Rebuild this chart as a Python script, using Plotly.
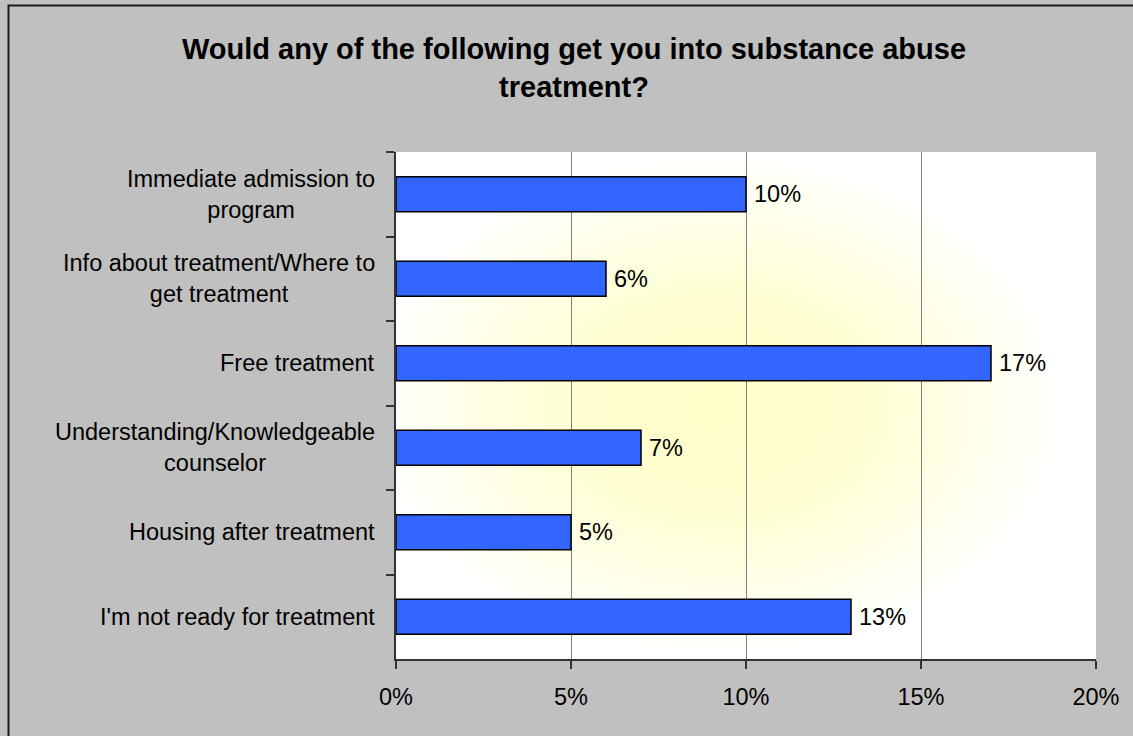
import base64
import plotly.graph_objects as go

# ---- data ----
categories = [
    "Immediate admission to program",
    "Info about treatment/Where to get treatment",
    "Free treatment",
    "Understanding/Knowledgeable counselor",
    "Housing after treatment",
    "I'm not ready for treatment",
]
category_labels = [
    "Immediate admission to<br>program",
    "Info about treatment/Where to<br>get treatment",
    "Free treatment",
    "Understanding/Knowledgeable<br>counselor",
    "Housing after treatment",
    "I'm not ready for treatment",
]
values = [10, 6, 17, 7, 5, 13]
x_tick_values = [0, 5, 10, 15, 20]
x_tick_labels = ["0%", "5%", "10%", "15%", "20%"]
title_text = "Would any of the following get you into substance abuse<br>treatment?"

FONT = "Liberation Sans, Arial, sans-serif"

# radial-gradient plot background (style only)
svg = (
    "<svg xmlns='http://www.w3.org/2000/svg' width='700' height='507' viewBox='0 0 700 507' "
    "preserveAspectRatio='none'><defs><radialGradient id='g' cx='0.46' cy='0.5' r='0.5'>"
    "<stop offset='0' stop-color='#FFFFC8'/><stop offset='0.45' stop-color='#FFFFD4'/>"
    "<stop offset='1' stop-color='#FFFFFF'/></radialGradient></defs>"
    "<rect width='700' height='507' fill='url(#g)'/></svg>"
)
svg_uri = "data:image/svg+xml;base64," + base64.b64encode(svg.encode()).decode()

fig = go.Figure()
fig.add_trace(go.Bar(
    x=values,
    y=categories,
    orientation="h",
    marker=dict(color="#3366FF", line=dict(color="#000000", width=1.5)),
    hoverinfo="skip",
))

annotations = []
for cat, lab in zip(categories, category_labels):
    annotations.append(dict(
        x=-0.027, xref="paper", xanchor="right",
        y=cat, yref="y", yanchor="middle",
        text=lab, align="center", showarrow=False,
        font=dict(family=FONT, size=23.5, color="#000000"),
    ))
for cat, v in zip(categories, values):
    annotations.append(dict(
        x=v, xref="x", xanchor="left", xshift=6,
        y=cat, yref="y", yanchor="middle",
        text=f"{v}%", showarrow=False,
        font=dict(family=FONT, size=23.5, color="#000000"),
    ))

fig.update_layout(
    width=1133, height=736,
    paper_bgcolor="#C0C0C0",
    plot_bgcolor="rgba(0,0,0,0)",
    margin=dict(l=396, r=37, t=152, b=77, pad=0),
    bargap=0.585,
    showlegend=False,
    title=dict(
        text=title_text,
        x=574 / 1133, xref="container", xanchor="center",
        y=1 - 59 / 736, yref="container", yanchor="middle",
        font=dict(family=FONT, size=29, color="#000000", weight="bold"),
    ),
    font=dict(family=FONT, size=23.5, color="#000000"),
    annotations=annotations,
    images=[dict(
        source=svg_uri, xref="paper", yref="paper",
        x=0, y=1, sizex=1, sizey=1, xanchor="left", yanchor="top",
        sizing="stretch", layer="below",
    )],
    shapes=[dict(
        type="rect", xref="paper", yref="paper",
        x0=(8.5 - 396) / 700, x1=(1160 - 396) / 700,
        y0=(659 - 760) / 507, y1=1 + (152 - 5.5) / 507,
        line=dict(color="#1a1a1a", width=2), fillcolor="rgba(0,0,0,0)",
        layer="above",
    )],
)

fig.update_xaxes(
    range=[0, 20],
    tickvals=x_tick_values, ticktext=x_tick_labels,
    showgrid=True, gridcolor="#808080", gridwidth=1,
    zeroline=False,
    showline=True, linecolor="#333333", linewidth=1.5,
    ticks="outside", ticklen=8, tickcolor="#333333", tickwidth=1.5,
    tickfont=dict(family=FONT, size=23.5, color="#000000"),
    ticklabelstandoff=8,
    fixedrange=True,
)
fig.update_yaxes(
    type="category",
    autorange="reversed",
    showticklabels=False,
    showgrid=False,
    showline=True, linecolor="#333333", linewidth=1.5,
    ticks="outside", tickson="boundaries", ticklen=8,
    tickcolor="#333333", tickwidth=1.5,
    fixedrange=True,
)

fig.write_html(
    "out.html",
    config={"displayModeBar": False},
    post_script="document.body.style.margin='0';document.body.style.overflow='hidden';",
)
